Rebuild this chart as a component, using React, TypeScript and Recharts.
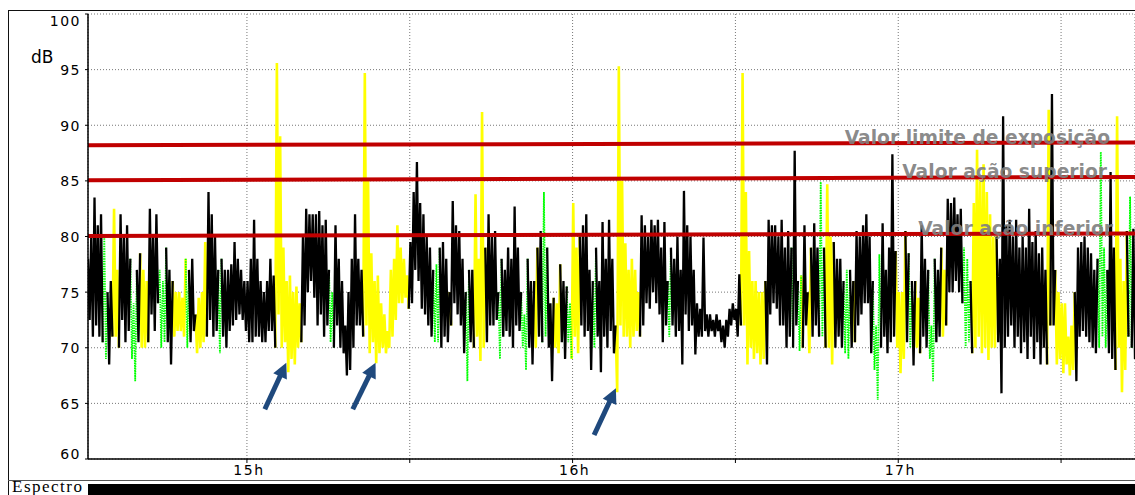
import React from 'react';
import { LineChart, Line, XAxis, YAxis, CartesianGrid, ReferenceLine } from 'recharts';

// time axis (hours): one column of readings every 0.01 h
const START_HOUR = 14.512;
const STEP_HOUR = 0.01;

// highest reading in each column (dB)
const peaks = [
  78, 80, 83.5, 81, 82, 80, 75, 76, 82.5, 77,
  82, 80, 81, 78, 74, 77, 78.5, 77, 76, 82.5,
  80, 82, 77, 76, 79, 77, 76, 75, 75, 74.5,
  78, 77, 78, 73, 74.5, 75, 79.5, 84, 82, 80,
  77, 78, 77, 77, 77.5, 79.5, 78, 77, 76, 76,
  78, 81.5, 78, 76, 75, 76, 78, 76.5, 95.6, 89,
  79, 76, 76.5, 75, 75.5, 74, 80, 82.5, 82, 82,
  82, 82.3, 81, 81.5, 77, 75, 81, 78, 76, 72,
  75, 78, 82, 78, 77, 94.7, 85, 78.5, 76, 76.5,
  74, 73, 71.5, 77, 78, 81, 79, 78, 76.5, 79.5,
  84, 86.7, 83, 82, 80, 79, 77, 77.5, 79, 79.5,
  78, 75, 83.2, 81, 80.5, 78, 75, 77, 77, 83.8,
  78, 91.2, 79, 82, 80, 80.5, 75, 78, 77, 79,
  78, 82.7, 79, 75, 73, 78, 76, 76, 79, 80.5,
  84, 79, 74, 74.5, 74, 77.5, 76, 75.5, 74, 83,
  79, 80, 81, 82, 77, 76, 79, 76, 81.3, 78,
  81.5, 78, 72, 95.3, 85, 79.4, 77, 78, 77, 75,
  81.9, 81, 80, 81.5, 81, 81.5, 79, 81.3, 76, 79,
  78, 80, 77, 84.1, 81, 80, 77, 74, 73.5, 79.9,
  73, 73, 72.5, 73, 72.5, 72, 72.5, 73.5, 74, 73.5,
  76.6, 94.7, 84, 78.7, 76, 76, 75, 75, 76, 81.5,
  81, 81, 80, 81.5, 79, 80.5, 79, 87.7, 76, 76.5,
  81, 75, 79, 81.2, 79, 84.9, 79, 84.7, 80, 79.5,
  78, 78, 76, 77, 77, 76, 80.5, 80, 81, 82,
  80, 76, 72, 78.4, 81.2, 77, 79, 87.4, 78.7, 75,
  75, 80.5, 78.5, 76, 76, 74.5, 81, 78, 77, 72,
  78, 77, 79, 77, 83.4, 83, 83.5, 82, 82.5, 79,
  78, 76, 83, 87.8, 85, 86.5, 84, 82, 80, 80,
  78, 90.8, 81, 81.5, 80, 81.5, 79, 80, 79, 82.5,
  79.5, 80.5, 78.5, 79, 77, 91.4, 92.8, 77, 75, 74,
  74, 71, 72, 75, 79, 79.5, 80, 79, 78.5, 77,
  78, 87.6, 79, 77, 85.8, 79, 90.8, 78, 76, 80.5,
  83.6, 80.7,
];

// lowest reading in each column (dB)
const troughs = [
  72.5, 71, 72, 71, 70.5, 69, 68.5, 71, 71, 70,
  72.5, 70.5, 71.5, 69, 67, 70.5, 70, 70, 70.5, 73,
  71.5, 74, 70, 70.5, 70.5, 68.5, 71, 71.5, 71.5, 71,
  70, 70.5, 71.5, 69.5, 70, 70.5, 71, 72.5, 71, 71.5,
  69.5, 71, 70, 71.5, 72, 72.5, 73, 72.5, 71.5, 70.5,
  70.5, 71, 71, 70.5, 70.5, 71.5, 71.5, 70, 73, 70,
  70.5, 67.8, 69, 68.5, 70, 70.5, 72, 75, 76, 74.5,
  72, 73, 71, 72, 70.5, 70, 72, 70, 69.5, 67.5,
  68, 70, 72, 72, 71, 72, 69.5, 70.5, 68.6, 69.5,
  70, 69.5, 70, 71, 72.5, 74, 74, 74.5, 73.5, 74,
  77, 76, 73.5, 73, 72, 71, 70.5, 70.5, 70, 71,
  70.5, 72, 74, 73, 72, 69.5, 67, 70.5, 70, 71,
  68.8, 70, 70.5, 72, 72, 72.5, 69, 71, 71.5, 71,
  70, 72, 71.5, 70, 68, 70, 68.5, 70, 71, 70.5,
  71, 70, 67, 70, 69.5, 70.5, 69, 70.5, 69, 71,
  69.5, 72, 71, 71.5, 68, 70, 71, 67.8, 71, 70,
  71.5, 69.5, 66, 72, 71, 71, 70, 71, 71.5, 71,
  72, 74, 73.5, 75, 74, 73, 70.5, 72, 71, 72,
  71, 71.5, 68.5, 73, 71.5, 72, 69.4, 71, 71, 71.5,
  71, 71.5, 71, 71.5, 70.5, 70, 71, 72, 72.5, 71,
  72, 72, 68.5, 70, 69, 69.5, 68.5, 69, 68.5, 73,
  74, 73.5, 72, 72, 70, 71, 70, 72, 69.7, 70,
  72, 69.5, 71, 72, 71, 71, 70, 70, 68.5, 70,
  71, 70, 69.5, 69, 70, 70.5, 72, 73, 74, 74,
  69.5, 68, 65.3, 70, 71, 69.5, 70.5, 71, 70, 67.7,
  69, 70.5, 70, 68.4, 70, 69.5, 71, 70, 69, 67,
  70.5, 71, 71, 72, 75, 75, 76, 75, 74, 70,
  70.5, 69.5, 70, 71, 69.5, 70, 68.9, 70, 70, 70.5,
  65.9, 70, 71, 72, 70, 71, 69.5, 70.5, 69, 71,
  69, 70.5, 68.5, 70, 68.5, 72, 72, 68.5, 69, 67.7,
  68.5, 67.5, 68, 67, 71, 71.5, 71, 70.5, 70, 69.5,
  70, 71, 70, 69.5, 69, 68, 70, 66, 68, 71,
  70, 69,
];

// spectrum class of each column: k = black, y = yellow, g = green
const sources = (
  'kkkkkgkkyy' + 'kkkggkyyyk' + 'kkggkkyyyy' + 'gkkyyyykkk' + 'gkkkkkkkkk' +
  'kkkkkkkkyy' + 'yyyyyykkkk' + 'kkkkggkkkk' + 'kkkkkyyyyy' + 'yyyyyyyyyk' +
  'kkkkkkggkk' + 'kykkkkgkky' + 'yykkkkgkkk' + 'kkkggkkykk' + 'gkkyykkggy' +
  'ykkkkgkkkk' + 'kkyyyyyyyy' + 'kkkkkkkkgk' + 'kkkkkkkkkk' + 'kkkkkkkkkk' +
  'kyyyyyyykk' + 'kkkkkkgkgy' + 'kykkkgkyyk' + 'kkggkykkkk' + 'kgggkkkkyy' +
  'ykgkyykkgg' + 'kkyykkkkkg' + 'gkyyyyyyyk' + 'kkkkkkkkkk' + 'kkkkkykyyy' +
  'yyykkkkkkk' + 'gggkkkyyyk' + 'gk'
).split('');

const yTicks = [60, 65, 70, 75, 80, 85, 90, 95, 100];
const xTicks = [15, 15.5, 16, 16.5, 17, 17.5];

const thresholds = [
  { name: 'Valor limite de exposição', from: 88.2, to: 88.45, labelAt: 88.94, labelOffset: 25 },
  { name: 'Valor ação superior', from: 85.05, to: 85.35, labelAt: 85.9, labelOffset: 28 },
  { name: 'Valor ação inferior', from: 80.05, to: 80.27, labelAt: 80.76, labelOffset: 22 },
];

// annotation arrows: tail -> tip (hour, dB)
const arrows = [
  { t1: 15.055, v1: 64.47, t2: 15.121, v2: 68.66 },
  { t1: 15.325, v1: 64.47, t2: 15.395, v2: 68.66 },
  { t1: 16.066, v1: 62.16, t2: 16.133, v2: 66.36 },
];

const END_HOUR = START_HOUR + (peaks.length - 1) * STEP_HOUR + STEP_HOUR / 2;

// trace: peak then trough of every column
type Pt = { t: number; v: number; c: string };
const trace: Pt[] = [];
peaks.forEach((p, i) => {
  const t = START_HOUR + i * STEP_HOUR;
  trace.push({ t, v: p, c: sources[i] });
  trace.push({ t: t + STEP_HOUR / 2, v: troughs[i], c: sources[i] });
});

// each segment gets the class of its more extreme endpoint
function buildSeries(code: string) {
  const pts: { t: number; v: number | null }[] = [];
  let lastEnd = -5;
  for (let i = 0; i < trace.length - 1; i++) {
    const a = trace[i];
    const b = trace[i + 1];
    const seg = a.c === b.c ? a.c : Math.abs(a.v - 75) >= Math.abs(b.v - 75) ? a.c : b.c;
    if (seg !== code) continue;
    if (lastEnd !== i) {
      if (pts.length) pts.push({ t: a.t - STEP_HOUR / 4, v: null });
      pts.push({ t: a.t, v: a.v });
    }
    pts.push({ t: b.t, v: b.v });
    lastEnd = i + 1;
  }
  return pts;
}

const yellowData = buildSeries('y');
const greenData = buildSeries('g');
const blackData = buildSeries('k');

const AXIS_FONT = { fontFamily: 'DejaVu Sans, Verdana, sans-serif', fontSize: 14, letterSpacing: 1.5 };

const YTick = (props: any) => {
  const { x, y, payload } = props;
  let dy = 5.6;
  if (payload.value === 100) dy = 9.2;
  if (payload.value === 60) dy = 0;
  return (
    <text x={x} y={y + dy} textAnchor="end" fill="#000" style={AXIS_FONT}>
      {payload.value}
    </text>
  );
};

const XTick = (props: any) => {
  const { x, y, payload } = props;
  if (!Number.isInteger(payload.value)) return null;
  return (
    <text x={x + 2} y={y + 10} textAnchor="middle" fill="#000" style={AXIS_FONT}>
      {`${payload.value}h`}
    </text>
  );
};

const ARROW_COLOR = '#1f497d';
const ArrowShape = (p: any) => {
  const { x1, y1, x2, y2 } = p;
  if ([x1, y1, x2, y2].some((n) => typeof n !== 'number' || isNaN(n))) return null;
  const dx = x2 - x1;
  const dy = y2 - y1;
  const len = Math.hypot(dx, dy) || 1;
  const ux = dx / len;
  const uy = dy / len;
  const headLen = 15;
  const headW = 7.5;
  const bx = x2 - ux * headLen;
  const by = y2 - uy * headLen;
  const px = -uy;
  const py = ux;
  return (
    <g>
      <line x1={x1} y1={y1} x2={bx + ux * 2} y2={by + uy * 2} stroke={ARROW_COLOR} strokeWidth={5} />
      <polygon
        points={`${x2},${y2} ${bx + px * headW},${by + py * headW} ${bx - px * headW},${by - py * headW}`}
        fill={ARROW_COLOR}
      />
    </g>
  );
};

const DbLabel = (props: any) => {
  const vb = props.viewBox || { x: 0, y: 6 };
  return (
    <text x={vb.x + 23} y={vb.y + 49} fill="#000" style={{ fontFamily: 'DejaVu Sans, sans-serif', fontSize: 17 }}>
      dB
    </text>
  );
};

export default function App() {
  return (
    <div style={{ position: 'absolute', left: 0, top: 0, width: 1135, height: 495, overflow: 'hidden', background: '#fff' }}>
      <div style={{ position: 'absolute', left: 8, top: 10, width: 1127, height: 485, borderLeft: '1.5px solid #111', borderTop: '1.5px solid #111', boxSizing: 'border-box' }} />
      <div style={{ position: 'absolute', left: 8, top: 480, width: 1127, height: 1, background: '#555' }} />
      <div style={{ position: 'absolute', left: 8, top: 8 }}>
        <LineChart width={1127} height={487} margin={{ top: 6, right: 0, bottom: 16, left: 0 }}>
          <CartesianGrid stroke="#777" strokeDasharray="1 2" />
          <XAxis
            type="number"
            dataKey="t"
            domain={[START_HOUR, END_HOUR]}
            ticks={xTicks}
            allowDataOverflow
            height={20}
            tick={<XTick />}
            tickSize={4}
            tickMargin={2}
            axisLine={{ stroke: '#000', strokeWidth: 1.5 }}
            tickLine={{ stroke: '#000' }}
          />
          <YAxis
            type="number"
            domain={[60, 100]}
            ticks={yTicks}
            allowDataOverflow
            width={80}
            tick={<YTick />}
            tickSize={3}
            tickMargin={4}
            axisLine={{ stroke: '#000', strokeWidth: 1.5 }}
            tickLine={{ stroke: '#000' }}
            label={<DbLabel />}
          />
          <Line data={yellowData} dataKey="v" type="linear" stroke="#ffff00" strokeWidth={2.6} dot={false} activeDot={false} isAnimationActive={false} connectNulls={false} />
          <Line data={greenData} dataKey="v" type="linear" stroke="#00ff00" strokeWidth={1.8} strokeDasharray="1.5 1" dot={false} activeDot={false} isAnimationActive={false} connectNulls={false} />
          <Line data={blackData} dataKey="v" type="linear" stroke="#000" strokeWidth={2.3} dot={false} activeDot={false} isAnimationActive={false} connectNulls={false} />
          {thresholds.map((th) => (
            <ReferenceLine
              key={th.name + '-line'}
              segment={[{ x: START_HOUR, y: th.from }, { x: END_HOUR, y: th.to }]}
              stroke="#c00000"
              strokeWidth={4}
              ifOverflow="visible"
            />
          ))}
          {thresholds.map((th) => (
            <ReferenceLine
              key={th.name + '-label'}
              y={th.labelAt}
              stroke="none"
              label={{
                value: th.name,
                position: 'insideRight',
                offset: th.labelOffset,
                fill: '#7f7f7f',
                fillOpacity: 0.92,
                fontSize: 18.7,
                fontWeight: 700,
                fontFamily: 'DejaVu Sans, Verdana, sans-serif',
              }}
            />
          ))}
          {arrows.map((a, i) => (
            <ReferenceLine
              key={'arrow' + i}
              segment={[{ x: a.t1, y: a.v1 }, { x: a.t2, y: a.v2 }]}
              ifOverflow="visible"
              shape={<ArrowShape />}
            />
          ))}
        </LineChart>
      </div>
      <svg style={{ position: 'absolute', left: 0, top: 475 }} width={1135} height={20}>
        <text x={12} y={16.5} fill="#000" style={{ fontFamily: 'Liberation Serif, Times New Roman, serif', fontSize: 17, letterSpacing: 1.5 }}>
          Espectro
        </text>
        <rect x={88} y={9} width={1047} height={11} fill="#000" />
      </svg>
    </div>
  );
}
